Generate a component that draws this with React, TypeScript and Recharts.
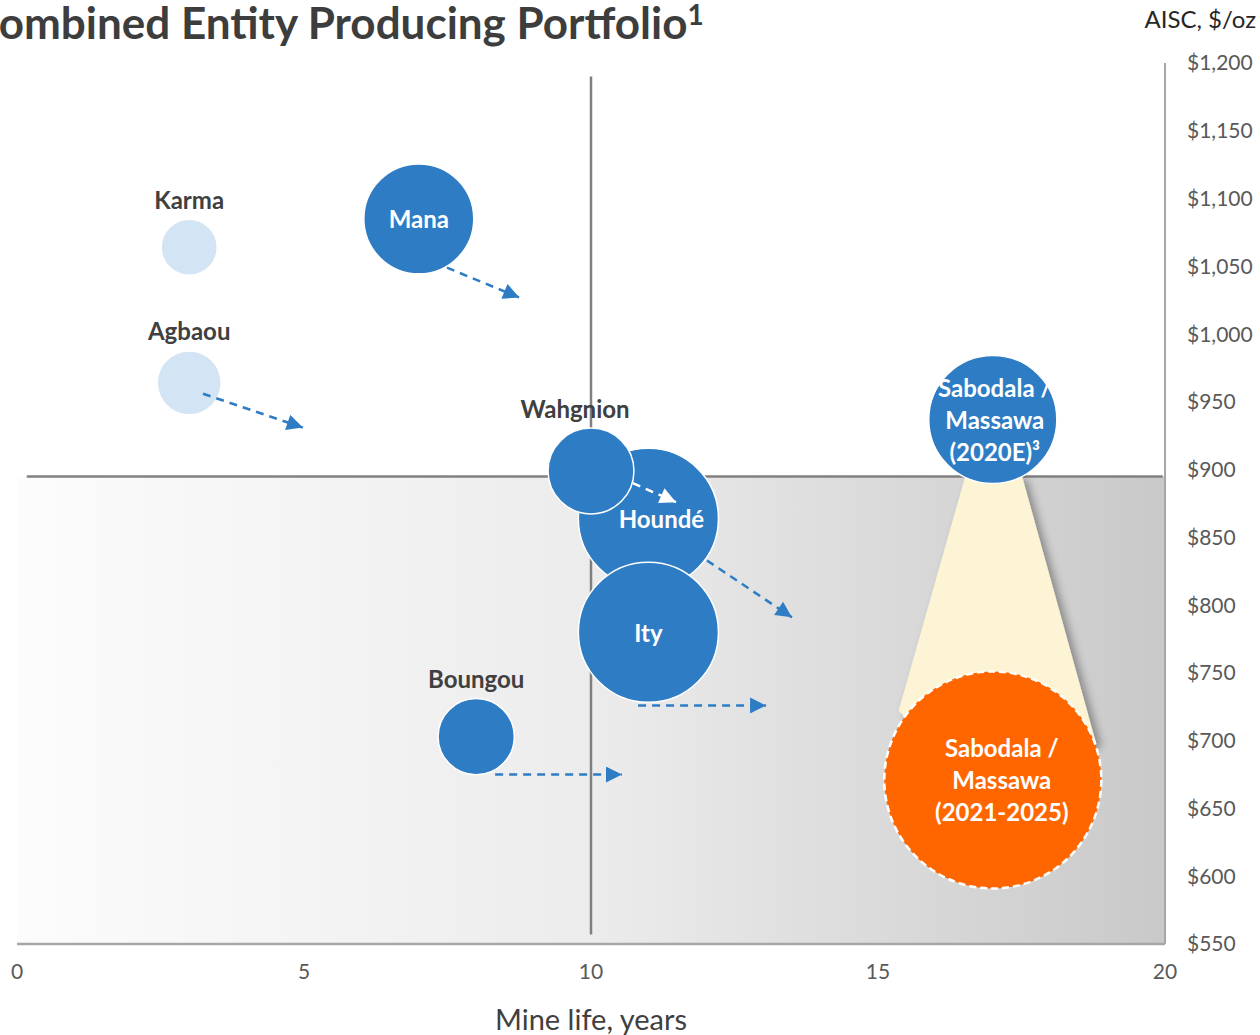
import React from "react";
import {
  ComposedChart,
  Scatter,
  Line,
  Area,
  XAxis,
  YAxis,
  ZAxis,
  ReferenceArea,
  ReferenceLine,
} from "recharts";

// Mine life (years), AISC ($/oz), production (koz, sets bubble area)
const BUBBLES = [
  { name: "Karma", x: 3.0, y: 1064, z: 40, kind: "faded" },
  { name: "Agbaou", x: 3.0, y: 964, z: 52, kind: "faded" },
  { name: "Mana", x: 7.0, y: 1085, z: 154, kind: "main" },
  { name: "Boungou", x: 8.0, y: 703, z: 74, kind: "main" },
  { name: "Houndé", x: 11.0, y: 864, z: 250, kind: "main" },
  { name: "Wahgnion", x: 10.0, y: 899, z: 94, kind: "main" },
  { name: "Ity", x: 11.0, y: 780, z: 250, kind: "main" },
  { name: "Sabodala /\nMassawa\n(2020E)³", x: 17.0, y: 937, z: 209, kind: "main" },
  { name: "Sabodala /\nMassawa\n(2021-2025)", x: 17.0, y: 671, z: 600, kind: "future" },
];

// names drawn inside the bubble; the rest get a label above
const INSIDE_LABELS = ["Mana", "Houndé", "Ity", "Sabodala /\nMassawa\n(2020E)³", "Sabodala /\nMassawa\n(2021-2025)"];

// expected direction of travel for each asset (start -> end)
const AGBAOU_ARROW = [{ x: 3.24, y: 956 }, { x: 4.98, y: 931 }];
const MANA_ARROW = [{ x: 7.49, y: 1049 }, { x: 8.75, y: 1027 }];
const WAHGNION_ARROW = [{ x: 10.73, y: 890 }, { x: 11.48, y: 876 }];
const HOUNDE_ARROW = [{ x: 12.02, y: 833 }, { x: 13.5, y: 791 }];
const ITY_ARROW = [{ x: 10.82, y: 726 }, { x: 13.05, y: 726 }];
const BOUNGOU_ARROW = [{ x: 8.33, y: 675 }, { x: 10.54, y: 675 }];

// spotlight cone from the 2020E bubble down to the 2021-2025 bubble
const CONE = [
  { x: 15.36, v: [722, 722] },
  { x: 16.52, v: [671, 895] },
  { x: 17.51, v: [671, 895] },
  { x: 18.8, v: [698, 698] },
];

const X_TICKS = [0, 5, 10, 15, 20];
const Y_TICKS = [550, 600, 650, 700, 750, 800, 850, 900, 950, 1000, 1050, 1100, 1150, 1200];

const BLUE = "#2e7cc4";
const FADED = "#d3e4f4";
const ORANGE = "#ff6600";
const FONT = "Lato, 'Open Sans', sans-serif";
const MAX_R = 108.5;

const LABEL_DX: Record<string, number> = {
  "Houndé": 13,
  Wahgnion: -16,
  "Sabodala /\nMassawa\n(2020E)³": 2,
  "Sabodala /\nMassawa\n(2021-2025)": 9,
};

function Bubble(props: any) {
  const { cx, cy, payload } = props;
  const r = props.size != null ? Math.sqrt(props.size / Math.PI) : props.width / 2;
  const fill = payload.kind === "faded" ? FADED : payload.kind === "future" ? ORANGE : BLUE;
  const inside = INSIDE_LABELS.includes(payload.name);
  const lines = payload.name.split("\n");
  const dx = LABEL_DX[payload.name] || 0;
  return (
    <g>
      <circle
        cx={cx}
        cy={cy}
        r={r}
        fill={fill}
        stroke="#ffffff"
        strokeWidth={payload.kind === "future" ? 2.5 : 1.5}
        strokeDasharray={payload.kind === "future" ? "7 4" : undefined}
      />
      {inside ? (
        lines.map((l: string, i: number) => (
          <text
            key={i}
            x={cx + dx}
            y={cy - (lines.length - 1) * 16 + i * 32}
            textAnchor="middle"
            dominantBaseline="central"
            fill="#ffffff"
            fontFamily={FONT}
            fontWeight={700}
            fontSize={24}
          >
            {l}
          </text>
        ))
      ) : (
        <text
          x={cx + dx}
          y={cy - r - 20}
          textAnchor="middle"
          dominantBaseline="central"
          fill="#404040"
          fontFamily={FONT}
          fontWeight={700}
          fontSize={24}
        >
          {payload.name}
        </text>
      )}
    </g>
  );
}

function Arrow({ data, white }: { data: { x: number; y: number }[]; white?: boolean }) {
  return (
    <Line
      data={data}
      dataKey="y"
      type="linear"
      stroke={white ? "#ffffff" : BLUE}
      strokeWidth={2.5}
      strokeDasharray="8 6"
      dot={false}
      activeDot={false}
      legendType="none"
      markerEnd={white ? "url(#headWhite)" : "url(#headBlue)"}
      isAnimationActive={false}
      zIndex={700}
    />
  );
}

export default function App() {
  return (
    <div style={{ position: "absolute", left: 0, top: 0, width: 1260, height: 1035, overflow: "hidden", background: "#fff" }}>
      <div
        style={{
          position: "absolute",
          left: -30,
          top: -6,
          fontFamily: FONT,
          fontWeight: 700,
          fontSize: 44,
          lineHeight: "56px",
          color: "#3d3d3d",
          whiteSpace: "nowrap",
        }}
      >
        Combined Entity Producing Portfolio
        <span style={{ fontSize: 28, position: "relative", top: -14 }}>1</span>
      </div>
      <div
        style={{
          position: "absolute",
          right: 4,
          top: 4,
          fontFamily: FONT,
          fontSize: 24,
          color: "#262626",
          whiteSpace: "nowrap",
        }}
      >
        AISC, $/oz
      </div>
      <ComposedChart width={1260} height={1035} margin={{ top: 63, right: 0, bottom: 0, left: 17 }}>
        <defs>
          <linearGradient id="bgGrad" x1="0" y1="0" x2="1" y2="0">
            <stop offset="0%" stopColor="#fcfcfc" />
            <stop offset="50%" stopColor="#ececec" />
            <stop offset="100%" stopColor="#c9c9c9" />
          </linearGradient>
          <filter id="coneShadow" x="-20%" y="-20%" width="140%" height="140%">
            <feDropShadow dx="5" dy="3" stdDeviation="4" floodColor="#000" floodOpacity="0.35" />
          </filter>
          <marker id="headBlue" viewBox="0 0 10 10" refX="10" refY="5" markerWidth="18" markerHeight="16" markerUnits="userSpaceOnUse" orient="auto">
            <path d="M0,0 L10,5 L0,10 z" fill={BLUE} />
          </marker>
          <marker id="headWhite" viewBox="0 0 10 10" refX="10" refY="5" markerWidth="18" markerHeight="16" markerUnits="userSpaceOnUse" orient="auto">
            <path d="M0,0 L10,5 L0,10 z" fill="#ffffff" />
          </marker>
        </defs>
        <XAxis
          dataKey="x"
          type="number"
          domain={[0, 20]}
          ticks={X_TICKS}
          tickLine={false}
          tickSize={0}
          tickMargin={20}
          height={91}
          axisLine={{ stroke: "#a6a6a6", strokeWidth: 2.5 }}
          tick={{ fill: "#595959", fontSize: 21, fontFamily: FONT }}
          label={{ value: "Mine life, years", position: "insideBottom", offset: 5, fill: "#404040", fontSize: 29, fontFamily: FONT }}
        />
        <YAxis
          dataKey="y"
          type="number"
          orientation="right"
          domain={[550, 1200]}
          ticks={Y_TICKS}
          interval={0}
          width={95}
          tickLine={false}
          tickSize={0}
          tickMargin={22}
          axisLine={{ stroke: "#a6a6a6", strokeWidth: 2 }}
          tick={{ fill: "#595959", fontSize: 21, fontFamily: FONT }}
          tickFormatter={(v: number) => "$" + v.toLocaleString("en-US")}
        />
        <ZAxis dataKey="z" type="number" domain={[0, 600]} range={[0, Math.PI * MAX_R * MAX_R]} />

        <ReferenceArea x1={0} x2={20} y1={550} y2={895} fill="url(#bgGrad)" fillOpacity={1} stroke="none" zIndex={-200} />
        <ReferenceLine
          segment={[{ x: 0.17, y: 895 }, { x: 19.96, y: 895 }]}
          stroke="#808080"
          strokeWidth={2.5}
          zIndex={-150}
        />
        <ReferenceLine
          segment={[{ x: 10, y: 557 }, { x: 10, y: 1190 }]}
          stroke="#808080"
          strokeWidth={2.5}
          zIndex={-150}
        />

        <Area
          data={CONE}
          dataKey="v"
          type="linear"
          stroke="none"
          fill="#fdf4d5"
          fillOpacity={1}
          filter="url(#coneShadow)"
          dot={false}
          activeDot={false}
          legendType="none"
          isAnimationActive={false}
          zIndex={100}
        />

        <Scatter data={BUBBLES} shape={<Bubble />} isAnimationActive={false} zIndex={600} />

        {Arrow({ data: AGBAOU_ARROW })}
        {Arrow({ data: MANA_ARROW })}
        {Arrow({ data: WAHGNION_ARROW, white: true })}
        {Arrow({ data: HOUNDE_ARROW })}
        {Arrow({ data: ITY_ARROW })}
        {Arrow({ data: BOUNGOU_ARROW })}
      </ComposedChart>
    </div>
  );
}
